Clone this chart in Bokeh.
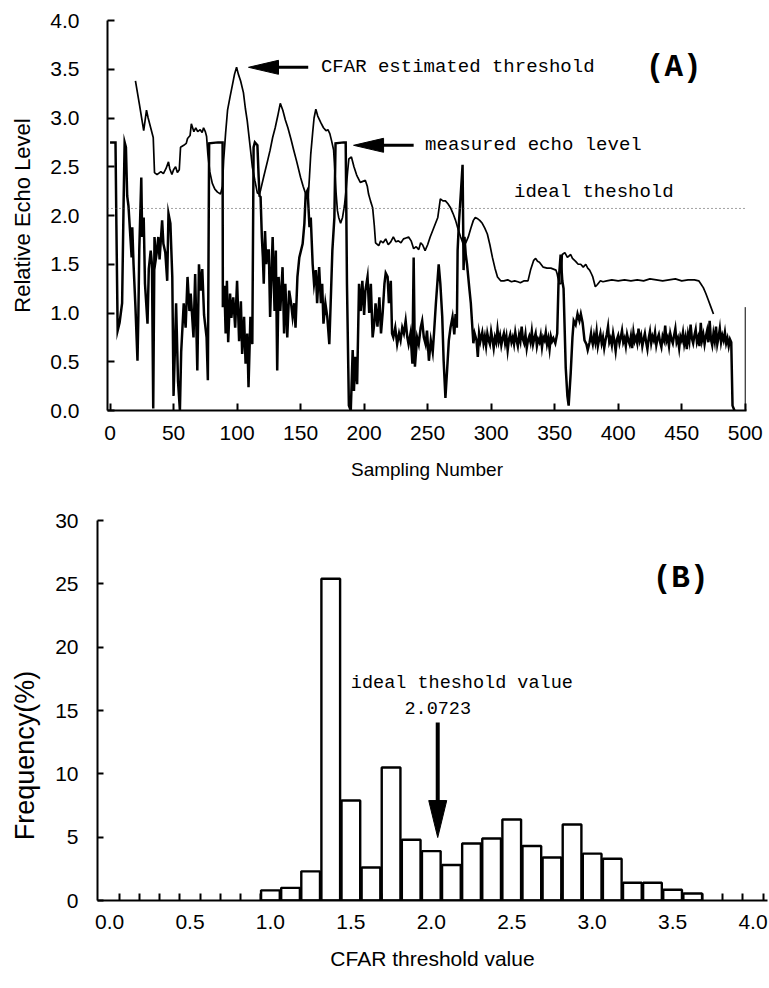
from bokeh.plotting import figure
from bokeh.models import FixedTicker, Label, Span, PrintfTickFormatter
from bokeh.embed import file_html
from bokeh.resources import INLINE

# ---------------- data (panel A) ----------------
ECHO_X_1 = [0, 2, 4.3, 5, 6, 7.5, 9.5, 10.7, 11.5, 12.5, 13.5, 14.5, 16, 17, 17.5, 18.5, 20, 21.6, 22.3, 23,
            24.6, 25.3, 26.5, 27.5, 29.5, 30.5, 32, 33, 34, 35, 36, 37, 38, 39, 41, 42, 43.5, 45, 46, 47.5,
            49, 50, 51, 52, 53.5, 55, 56, 58, 59.5, 61, 62.5, 63.5, 65.7, 67, 68.7, 70, 71.3, 72.6, 74, 76,
            77, 78, 85, 88.6, 88.8, 90, 91, 92, 93, 94.5, 95.5, 97, 98.5, 100, 101.6, 103, 104, 105.5, 106.7, 108,
            109, 110.5, 112, 113, 114, 116, 117, 117.7, 118.5, 119.5, 120.3, 121, 122, 123, 124, 125, 126, 128, 129.5, 130.5,
            131.6, 132.7, 134, 135.8, 137, 138, 139.5, 141, 142.5, 143.7, 145, 146, 147.5, 149, 151.6, 153, 154, 155.5, 157, 158,
            159.5, 160.6, 162, 163, 164.6, 166, 167, 168, 169.5, 171, 172.6, 174, 175, 176.6, 177.5, 184, 185.5, 186.5, 188, 189.5,
            191, 192, 193, 194.5, 196, 197.3, 198.6, 200, 201, 202.7, 204, 205.3, 206.7, 208, 209, 210.5, 212, 213.3, 214.6, 216,
            217, 218.5, 219.5, 221, 222, 223, 224.5, 226, 227.5, 228.7, 230, 231.3, 232.7, 234, 235, 236.5, 238, 239, 240, 241.7,
            243, 244.5, 245.7, 247, 248.4, 249.5, 251, 252.5, 254, 255, 256.5, 258, 258.7, 260, 261.5, 262.6, 264, 265.3, 266.7, 268,
            269.6, 271, 272, 273, 273.6, 274.6, 276, 277.5, 278.3, 279, 280, 281, 283, 284, 286, 287, 288.5, 289.5, 290.5, 291.5]
ECHO_Y_1 = [2.75, 2.75, 2.75, 1.9, 0.82, 0.9, 1.1, 2.15, 2.75, 2.7, 2.2, 2.1, 1.78, 1.57, 1.88, 1.5, 1.06, 0.51, 0.98, 1.64,
            2.39, 1.78, 1.98, 1.3, 0.89, 1.45, 1.64, 1.5, 0.02, 1.78, 1.55, 1.64, 1.78, 1.55, 1.95, 1.71, 1.62, 1.33, 2.02, 1.92,
            1.37, 0.15, 0.6, 1.1, 0.3, 0.0, 0.6, 1.1, 0.85, 1.37, 1.02, 1.2, 0.75, 1.4, 0.41, 1.5, 1.23, 1.45, 0.98, 0.75,
            0.31, 2.74, 2.75, 2.75, 1.06, 1.28, 0.79, 1.33, 0.7, 1.2, 0.95, 1.16, 0.85, 1.33, 0.71, 1.12, 0.58, 0.96, 0.48, 0.79,
            0.24, 0.96, 0.68, 2.7, 2.75, 2.72, 2.39, 2.2, 2.19, 1.78, 1.57, 1.3, 1.84, 1.5, 1.64, 1.64, 0.96, 1.78, 1.02, 1.64,
            0.41, 1.37, 1.02, 1.47, 0.79, 1.3, 0.75, 1.23, 1.1, 0.96, 1.1, 0.85, 1.37, 1.57, 1.71, 1.92, 2.22, 2.26, 1.88, 1.98,
            1.5, 1.3, 1.44, 1.1, 1.47, 1.1, 1.3, 0.89, 1.1, 0.96, 0.68, 1.23, 1.64, 1.98, 2.74, 2.75, 2.75, 1.3, 0.05, 0.0,
            0.62, 0.2, 0.55, 0.27, 1.3, 1.02, 1.33, 0.98, 1.23, 1.37, 1.0, 1.3, 0.75, 0.89, 1.1, 0.86, 1.16, 0.79, 1.0, 1.3,
            1.41, 1.37, 1.1, 1.33, 0.79, 0.75, 0.85, 0.68, 0.79, 0.72, 0.85, 0.79, 0.92, 0.75, 0.68, 0.79, 0.48, 1.57, 0.45, 0.75,
            0.68, 0.85, 0.92, 0.75, 0.68, 0.82, 0.51, 0.72, 0.6, 0.79, 1.1, 1.37, 1.5, 1.3, 0.96, 0.51, 0.13, 0.41, 0.72, 0.85,
            0.96, 0.78, 0.99, 0.85, 1.64, 1.92, 2.2, 2.52, 1.44, 1.78, 1.6, 1.5, 1.23, 1.1, 0.69, 0.79, 0.72, 0.55, 0.79, 0.71]

# samples 292..349, one per sample
NOISE_1_START = 292
NOISE_1_Y = [0.74, 0.80, 0.69, 0.76, 0.66, 0.79, 0.72, 0.68, 0.81, 0.73, 0.64, 0.75, 0.70, 0.83, 0.71, 0.77, 0.67, 0.74, 0.79, 0.69,
             0.76, 0.62, 0.73, 0.78, 0.70, 0.75, 0.68, 0.80, 0.72, 0.66, 0.77, 0.71, 0.86, 0.73, 0.69, 0.78, 0.64, 0.72, 0.76, 0.70,
             0.81, 0.68, 0.74, 0.79, 0.66, 0.73, 0.70, 0.77, 0.65, 0.75, 0.72, 0.80, 0.68, 0.74, 0.63, 0.76, 0.71, 0.74]

ECHO_X_2 = [350.5, 352, 353, 354.7, 356, 357, 358.7, 360, 361, 362.6, 364, 365, 366.5, 368, 369.5, 370.6, 372, 373.5, 375, 376,
            377.5, 378.6]
ECHO_Y_2 = [0.69, 0.79, 1.3, 1.6, 1.33, 1.25, 0.44, 0.15, 0.05, 0.38, 0.75, 0.92, 0.88, 0.99, 0.92, 0.99, 0.9, 0.72, 0.68, 0.62,
            0.7, 0.79]

# samples 379..489, one per sample
NOISE_2_START = 379
NOISE_2_Y = [0.74, 0.68, 0.77, 0.70, 0.81, 0.66, 0.73, 0.79, 0.69, 0.75, 0.64, 0.72, 0.78, 0.86, 0.70, 0.74, 0.67, 0.79, 0.71, 0.61,
             0.73, 0.77, 0.69, 0.75, 0.82, 0.70, 0.74, 0.66, 0.78, 0.72, 0.68, 0.76, 0.64, 0.80, 0.71, 0.75, 0.69, 0.84, 0.72, 0.77,
             0.66, 0.73, 0.79, 0.70, 0.63, 0.74, 0.81, 0.69, 0.76, 0.72, 0.80, 0.67, 0.74, 0.78, 0.70, 0.65, 0.76, 0.72, 0.87, 0.71,
             0.75, 0.66, 0.79, 0.73, 0.69, 0.77, 0.84, 0.70, 0.74, 0.64, 0.76, 0.72, 0.80, 0.68, 0.75, 0.63, 0.78, 0.71, 0.88, 0.74,
             0.69, 0.77, 0.83, 0.70, 0.75, 0.66, 0.90, 0.72, 0.78, 0.68, 0.76, 0.82, 0.70, 0.92, 0.73, 0.67, 0.79, 0.71, 0.86, 0.68,
             0.75, 0.84, 0.70, 0.77, 0.72, 0.80, 0.69, 0.74, 0.66, 0.73, 0.70]

ECHO_X_3 = [490, 491.5]
ECHO_Y_3 = [0.05, 0.0]

CFAR_X = [20, 23, 26.5, 28.7, 30, 32, 34, 35, 37, 40, 42, 44, 46, 47, 48.7, 50, 51.6, 53, 54.5, 55.5,
          58, 60, 61, 63, 64, 66, 67.5, 69, 71, 72.5, 73.6, 75, 76, 77, 78.5, 80.5, 82.5, 84.6, 87, 88.5,
          89.4, 91, 92.5, 94.5, 96.5, 98, 99.6, 101, 102.8, 105, 106.5, 108, 110.6, 112, 114, 116, 117.5, 118.5, 121, 124,
          126, 128, 130, 132, 134, 136, 138, 140, 142.5, 144.6, 147, 150, 152, 154, 156, 157, 158, 159.5, 160.6, 162,
          163.5, 166, 168, 170, 171.5, 173, 174.5, 176, 177, 178, 179, 180, 181.5, 183, 184.5, 186, 187, 188, 190, 192,
          194, 195, 197, 199, 201, 202.5, 203.5, 205, 206.7, 208, 209, 211.5, 213, 215, 217, 219, 221, 223, 225, 227,
          229, 231, 233, 235, 237, 239, 241, 243, 244.5, 246, 248, 250, 252, 255, 258, 260, 262, 264, 266, 268,
          270, 272, 274, 276, 278.5, 280, 282, 284, 286, 287.5, 289, 291, 293, 295, 297, 299, 301, 303, 305, 307.5,
          310, 313, 316, 318.5, 321, 323, 326, 329, 331, 333.5, 335, 336.5, 338, 341, 344, 347, 349, 351, 352, 353.5,
          355, 356, 358, 360, 362.6, 364, 366.5, 368.5, 370.5, 372.5, 374.5, 376, 377.5, 379, 380, 382, 383.5, 386, 388, 391,
          395, 400, 405, 410, 415, 420, 425, 430, 435, 440, 445, 450, 455, 460, 463.4, 465, 467, 469, 471, 473, 475]
CFAR_Y = [3.38, 3.15, 2.87, 3.08, 3.0, 2.9, 2.8, 2.44, 2.42, 2.45, 2.43, 2.48, 2.55, 2.48, 2.42, 2.47, 2.5, 2.44, 2.47, 2.7,
          2.72, 2.74, 2.79, 2.82, 2.94, 2.86, 2.9, 2.86, 2.88, 2.85, 2.9, 2.86, 2.81, 2.63, 2.45, 2.33, 2.27, 2.24, 2.22, 2.3,
          2.56, 2.85, 3.08, 3.22, 3.35, 3.45, 3.52, 3.45, 3.38, 3.26, 3.1, 2.97, 2.67, 2.5, 2.36, 2.23, 2.22, 2.26, 2.4, 2.56,
          2.67, 2.8, 2.9, 3.02, 3.15, 3.08, 2.98, 2.9, 2.78, 2.67, 2.55, 2.39, 2.3, 2.22, 2.19, 2.4, 2.63, 2.85, 3.0, 3.09,
          3.02, 2.95, 2.9, 2.87, 2.88, 2.84, 2.76, 2.67, 2.45, 2.22, 2.05, 1.98, 1.92, 1.98, 2.1, 2.29, 2.45, 2.58, 2.6, 2.5,
          2.42, 2.39, 2.34, 2.35, 2.36, 2.3, 2.22, 2.15, 2.08, 1.9, 1.72, 1.69, 1.74, 1.72, 1.76, 1.7, 1.73, 1.78, 1.73, 1.74,
          1.72, 1.76, 1.77, 1.78, 1.74, 1.66, 1.68, 1.65, 1.72, 1.7, 1.64, 1.7, 1.78, 1.88, 1.98, 2.17, 2.15, 2.15, 2.12, 2.08,
          2.02, 1.95, 1.86, 1.78, 1.69, 1.72, 1.78, 1.87, 1.95, 1.98, 1.97, 1.95, 1.92, 1.87, 1.81, 1.7, 1.57, 1.46, 1.37, 1.33,
          1.33, 1.34, 1.32, 1.33, 1.32, 1.31, 1.33, 1.33, 1.44, 1.54, 1.56, 1.53, 1.52, 1.47, 1.46, 1.46, 1.45, 1.44, 1.4, 1.3,
          1.3, 1.6, 1.62, 1.57, 1.6, 1.56, 1.53, 1.5, 1.5, 1.47, 1.5, 1.46, 1.44, 1.4, 1.37, 1.27, 1.29, 1.33, 1.32, 1.33,
          1.34, 1.33, 1.34, 1.33, 1.34, 1.33, 1.35, 1.34, 1.33, 1.34, 1.35, 1.33, 1.34, 1.34, 1.33, 1.3, 1.26, 1.2, 1.13, 1.06, 0.99]

IDEAL_THRESHOLD = 2.0723
EDGE_X = [500]
EDGE_TOP = [1.06]
A_XTICKS = [0, 50, 100, 150, 200, 250, 300, 350, 400, 450, 500]
A_YTICKS = [0.0, 0.5, 1.0, 1.5, 2.0, 2.5, 3.0, 3.5, 4.0]

# ---------------- data (panel B) ----------------
BIN_CENTERS = [1.0, 1.125, 1.25, 1.375, 1.5, 1.625, 1.75, 1.875, 2.0, 2.125, 2.25,
               2.375, 2.5, 2.625, 2.75, 2.875, 3.0, 3.125, 3.25, 3.375, 3.5, 3.625]
FREQUENCY = [0.8, 1.0, 2.3, 25.4, 7.9, 2.6, 10.5, 4.8, 3.9, 2.8, 4.5,
             4.9, 6.4, 4.3, 3.4, 6.0, 3.7, 3.3, 1.4, 1.4, 0.85, 0.55]
BIN_WIDTH = 0.125
B_XTICKS = [0.0, 0.5, 1.0, 1.5, 2.0, 2.5, 3.0, 3.5, 4.0]
B_YTICKS = [0, 5, 10, 15, 20, 25, 30]
B_EDGE_TICKS = [0.0625 + BIN_WIDTH * k for k in range(33)]

SANS = "Liberation Sans"
MONO = "Liberation Mono"

ECHO_X = (ECHO_X_1 + [NOISE_1_START + i for i in range(len(NOISE_1_Y))] + ECHO_X_2
          + [NOISE_2_START + i for i in range(len(NOISE_2_Y))] + ECHO_X_3)
ECHO_Y = ECHO_Y_1 + NOISE_1_Y + ECHO_Y_2 + NOISE_2_Y + ECHO_Y_3


def style(p, xfs, yfs):
    p.outline_line_color = None
    p.grid.visible = False
    p.background_fill_color = "white"
    p.border_fill_color = "white"
    for ax in (p.xaxis[0], p.yaxis[0]):
        ax.axis_line_width = 2
        ax.axis_line_color = "black"
        ax.major_tick_line_width = 2
        ax.major_tick_line_color = "black"
        ax.minor_tick_line_color = None
        ax.major_tick_in = 7
        ax.major_tick_out = 0
        ax.major_label_text_font = SANS
        ax.major_label_text_color = "black"
        ax.axis_label_text_font = SANS
        ax.axis_label_text_font_style = "normal"
        ax.axis_label_text_color = "black"
    p.xaxis.major_label_text_font_size = xfs
    p.yaxis.major_label_text_font_size = yfs


def head(p, tip_x, tip_y, direction, length_px, half_px, ppx, ppy):
    # filled triangular arrow head, sized in screen pixels
    if direction == "left":
        xs = [tip_x, tip_x + length_px / ppx, tip_x + length_px / ppx]
        ys = [tip_y, tip_y + half_px / ppy, tip_y - half_px / ppy]
    else:  # down
        xs = [tip_x, tip_x - half_px / ppx, tip_x + half_px / ppx]
        ys = [tip_y, tip_y + length_px / ppy, tip_y + length_px / ppy]
    p.patch(xs, ys, fill_color="black", line_color="black", line_width=1)


# ---------------- panel A ----------------
p1 = figure(width=769, height=500, x_range=(-2, 501), y_range=(0, 4),
            output_backend="svg", toolbar_location=None,
            min_border_left=107, min_border_right=23, min_border_top=20, min_border_bottom=90)
style(p1, "21px", "21px")
p1.xaxis.ticker = FixedTicker(ticks=A_XTICKS)
p1.yaxis.ticker = FixedTicker(ticks=A_YTICKS)
p1.yaxis.formatter = PrintfTickFormatter(format="%.1f")
p1.yaxis.major_label_standoff = 28
p1.xaxis.major_label_standoff = 15
p1.xaxis.axis_label = "Sampling Number"
p1.xaxis.axis_label_text_font_size = "19px"
p1.xaxis.axis_label_standoff = 16
p1.yaxis.axis_label = "Relative Echo Level"
p1.yaxis.axis_label_text_font_size = "22px"
p1.yaxis.axis_label_standoff = 12

p1.add_layout(Span(location=IDEAL_THRESHOLD, dimension="width", line_color="#444444",
                   line_width=1, line_dash="1 3"))
p1.line(ECHO_X, ECHO_Y, line_color="black", line_width=2.5, line_join="miter")
p1.line(CFAR_X, CFAR_Y, line_color="black", line_width=1.7)
p1.segment(x0=EDGE_X, y0=[0], x1=EDGE_X, y1=EDGE_TOP, line_color="black", line_width=1)

ppx1 = 639 / 503
ppy1 = 390 / 4
# CFAR arrow
p1.segment(x0=[130], y0=[3.52], x1=[156], y1=[3.52], line_color="black", line_width=3)
head(p1, 109, 3.52, "left", 30, 7, ppx1, ppy1)
# measured echo arrow
p1.segment(x0=[213], y0=[2.72], x1=[239], y1=[2.72], line_color="black", line_width=3)
head(p1, 191.7, 2.72, "left", 30, 7, ppx1, ppy1)

for txt, x, y in [("CFAR estimated threshold", 166, 3.52),
                  ("measured echo level", 248, 2.72),
                  ("ideal theshold", 318, 2.24)]:
    p1.add_layout(Label(x=x, y=y, text=txt, text_font=MONO, text_font_size="19px",
                        text_baseline="middle", text_align="left", text_color="black"))
p1.add_layout(Label(x=443.7, y=3.52, text="(A)", text_font=MONO, text_font_size="31px",
                    text_font_style="bold", text_baseline="middle", text_align="center",
                    text_color="black"))

# ---------------- panel B ----------------
p2 = figure(width=769, height=486, x_range=(-0.075, 4.09), y_range=(0, 30),
            output_backend="svg", toolbar_location=None,
            min_border_left=97, min_border_right=2, min_border_top=20, min_border_bottom=86)
style(p2, "21px", "21px")
p2.xaxis.ticker = FixedTicker(ticks=B_XTICKS, minor_ticks=B_EDGE_TICKS)
p2.xaxis.formatter = PrintfTickFormatter(format="%.1f")
p2.xaxis.major_tick_in = 0
p2.xaxis.minor_tick_line_color = "black"
p2.xaxis.minor_tick_line_width = 2
p2.xaxis.minor_tick_in = 7
p2.xaxis.minor_tick_out = 0
p2.xaxis.major_label_standoff = 14
p2.xaxis.axis_label = "CFAR threshold value"
p2.xaxis.axis_label_text_font_size = "21px"
p2.xaxis.axis_label_standoff = 15
p2.yaxis.ticker = FixedTicker(ticks=B_YTICKS)
p2.yaxis.major_tick_in = 6
p2.yaxis.major_label_standoff = 19
# trailing no-break spaces push the visible title below the axis middle, as in the original
p2.yaxis.axis_label = "Frequency(%)" + "\u00a0" * 12
p2.yaxis.axis_label_text_font_size = "27px"
p2.yaxis.axis_label_standoff = 12

p2.vbar(x=BIN_CENTERS, top=FREQUENCY, width=BIN_WIDTH * 0.93, bottom=0,
        fill_color="white", line_color="black", line_width=2.4)

ppx2 = 670 / 4.165
ppy2 = 380 / 30
p2.segment(x0=[2.04], y0=[14.05], x1=[2.04], y1=[7.5], line_color="black", line_width=4)
head(p2, 2.04, 4.97, "down", 37, 9, ppx2, ppy2)

p2.add_layout(Label(x=2.19, y=17.1, text="ideal theshold value", text_font=MONO,
                    text_font_size="18.5px", text_baseline="middle", text_align="center",
                    text_color="black"))
p2.add_layout(Label(x=2.04, y=15.2, text="2.0723", text_font=MONO,
                    text_font_size="18.5px", text_baseline="middle", text_align="center",
                    text_color="black"))
p2.add_layout(Label(x=3.55, y=25.4, text="(B)", text_font=MONO, text_font_size="31px",
                    text_font_style="bold", text_baseline="middle", text_align="center",
                    text_color="black"))

open("out.html", "w").write(file_html([p1, p2], INLINE))
